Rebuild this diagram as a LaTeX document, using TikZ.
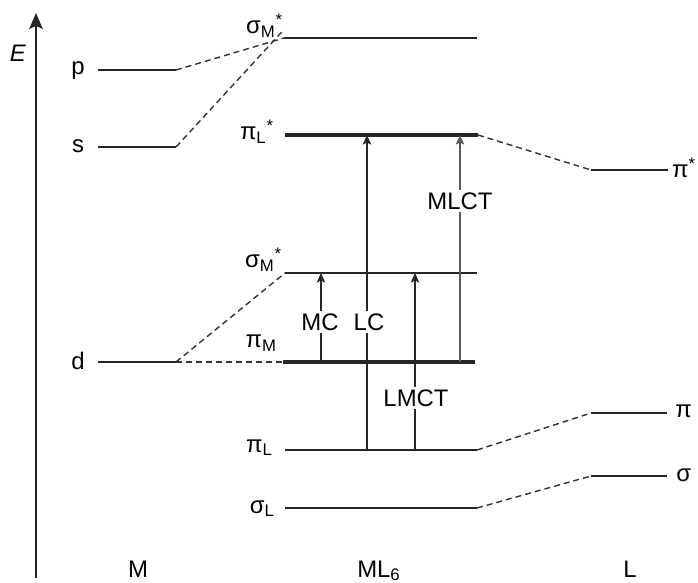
\documentclass[tikz,border=0pt]{standalone}
\usepackage{fontspec}
\setmainfont{Liberation Sans}
\usetikzlibrary{arrows.meta}
\newcommand{\orb}[2]{#1\textsubscript{#2}}
\newcommand{\orbs}[2]{#1\textsubscript{#2}\textsuperscript{*}}

\tikzset{
  level/.style={line width=1.4pt, black!85},
  strong level/.style={line width=2.2pt, black!85},
  corr/.style={line width=1pt, black!80, dash pattern=on 1.5mm off 1mm},
  trans/.style={line width=0.9pt, black!85, -{Stealth[length=2.4mm,width=2.1mm,inset=0.5mm]}},
  lab/.style={font=\fontsize{17}{20}\selectfont, inner sep=0pt},
  tlab/.style={lab, fill=white, inner sep=1.5pt}
}

\begin{document}
\begin{tikzpicture}[x=0.025cm, y=-0.025cm]
\useasboundingbox (0,0) rectangle (698,583);
% energy axis
\coordinate (ax-b) at (36,578);
\coordinate (ax-t) at (36,13);
\draw[line width=1.1pt, black!85, -{Stealth[length=4mm,width=3.4mm,inset=0.8mm]}] (ax-b) -- (ax-t);
\node[lab, anchor=base] (E) at (18,62) {\textit{E}};
% level end points
\foreach \n/\xa/\xb/\y in {p/98/176/70, s/98/176/147, d/98/176/362,
    sMt/284/477/38, pLs/285/478/135, sMs/285/477/273, pM/283/475/362,
    pL/285/477/450, sL/285/477/508,
    Lps/591/668/170, Lp/591/667/413, Ls/591/667/476}{
  \coordinate (\n-l) at (\xa,\y);
  \coordinate (\n-r) at (\xb,\y);
}
\foreach \n in {p,s,d,sMt,sMs,pL,sL,Lps,Lp,Ls}
  \draw[level] (\n-l) -- (\n-r);
\draw[strong level] (pLs-l) -- (pLs-r);
\draw[strong level] (pM-l) -- (pM-r);
% correlation lines
\draw[corr] (p-r) -- (sMt-l);
\draw[corr] (s-r) -- ([yshift=6]sMt-l);
\draw[corr] (d-r) -- (sMs-l);
\draw[corr] (d-r) -- (pM-l);
\draw[corr] (pLs-r) -- (Lps-l);
\draw[corr] (pL-r) -- (Lp-l);
\draw[corr] (sL-r) -- (Ls-l);
% transitions
\draw[trans] (321,0 |- pM-l) -- (321,0 |- sMs-l);
\draw[trans] (367,0 |- pL-l) -- (367,0 |- pLs-l);
\draw[trans] (415,0 |- pL-l) -- (415,0 |- sMs-l);
\draw[trans, black!65] (460,0 |- pM-l) -- (460,0 |- pLs-l);
\node[tlab] (MC) at (320,322) {MC};
\node[tlab] (LC) at (369,322) {LC};
\node[tlab] (LMCT) at (416,398) {LMCT};
\node[tlab] (MLCT) at (460,201) {MLCT};
% labels
\node[lab, anchor=base] (p-n) at (78,75) {p};
\node[lab, anchor=base] (s-n) at (78,153) {s};
\node[lab, anchor=base] (d-n) at (78,370) {d};
\node[lab, anchor=base east] (sMt-n) at (283,34) {\orbs{σ}{M}};
\node[lab, anchor=base east] (pLs-n) at (274,140) {\orbs{π}{L}};
\node[lab, anchor=base east] (sMs-n) at (282,268) {\orbs{σ}{M}};
\node[lab, anchor=base east] (pM-n) at (277,348) {\orb{π}{M}};
\node[lab, anchor=base east] (pL-n) at (273,452) {\orb{π}{L}};
\node[lab, anchor=base east] (sL-n) at (275,513) {\orb{σ}{L}};
\node[lab, anchor=base east] (Lps-n) at (696,178) {π\textsuperscript{*}};
\node[lab, anchor=base west] (Lp-n) at (675,418) {π};
\node[lab, anchor=base west] (Ls-n) at (676,482) {σ};
\node[lab, anchor=base] (M) at (138,577) {M};
\node[lab, anchor=base west] (ML6) at (357,577) {ML\textsubscript{6}};
\node[lab, anchor=base] (L) at (630,577) {L};
\end{tikzpicture}
\end{document}
